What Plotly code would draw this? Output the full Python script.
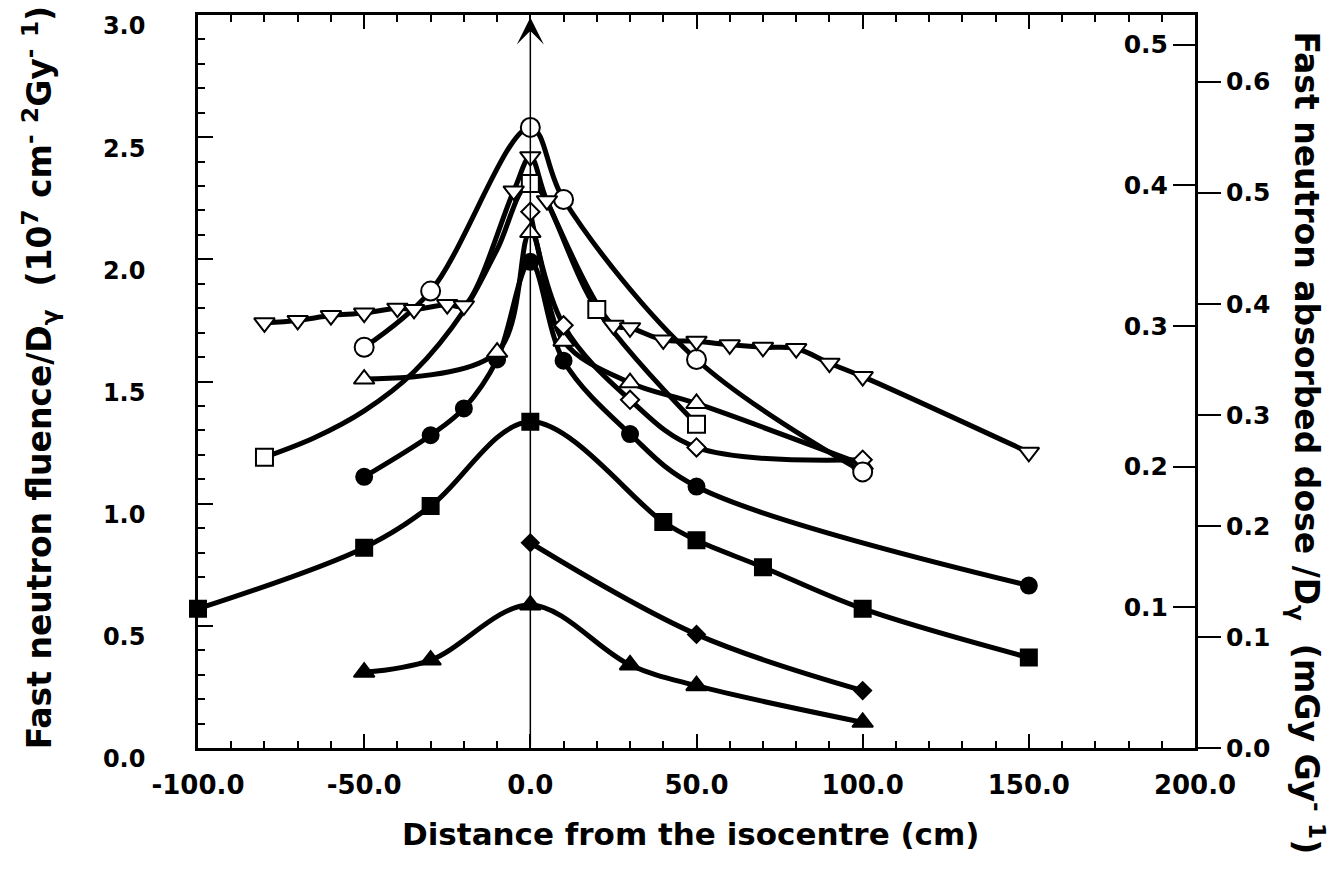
import plotly.graph_objects as go

# Distance from the isocentre (cm) and fast neutron fluence / D_gamma for each profile
tri_down_x = [-80, -70, -60, -50, -40, -35, -25, -20, -5, 0, 5, 25, 30, 40, 50, 60, 70, 80, 90, 100, 150]
tri_down_y = [1.74, 1.75, 1.77, 1.78, 1.80, 1.795, 1.815, 1.81, 2.28, 2.42, 2.24,
              1.73, 1.72, 1.67, 1.665, 1.65, 1.64, 1.635, 1.575, 1.52, 1.21]

circle_x = [-50, -30, 0, 10, 50, 100]
circle_y = [1.64, 1.87, 2.54, 2.245, 1.59, 1.13]

square_x = [-80, 0, 20, 50]
square_y = [1.19, 2.31, 1.795, 1.325]
# smoothed curve drawn through the open-square profile
square_curve_x = [-80, -65, -50, -35, -20, -10, 0, 20, 50]
square_curve_y = [1.19, 1.27, 1.38, 1.54, 1.79, 2.04, 2.31, 1.795, 1.325]

diamond_x = [0, 10, 30, 50, 100]
diamond_y = [2.195, 1.73, 1.425, 1.23, 1.18]

tri_up_x = [-50, -10, 0, 10, 30, 50, 100]
tri_up_y = [1.51, 1.62, 2.11, 1.665, 1.495, 1.41, 1.16]

dot_x = [-50, -30, -20, -10, 0, 10, 30, 50, 150]
dot_y = [1.11, 1.28, 1.39, 1.59, 1.99, 1.585, 1.285, 1.07, 0.665]

sq_fill_x = [-100, -50, -30, 0, 40, 50, 70, 100, 150]
sq_fill_y = [0.57, 0.82, 0.99, 1.335, 0.925, 0.85, 0.74, 0.57, 0.37]

dia_fill_x = [0, 50, 100]
dia_fill_y = [0.84, 0.465, 0.235]

tri_fill_x = [-50, -30, 0, 30, 50, 100]
tri_fill_y = [0.31, 0.36, 0.585, 0.34, 0.255, 0.105]

# Axis ticks
x_ticks = [-100, -50, 0, 50, 100, 150, 200]
y_ticks = [0.0, 0.5, 1.0, 1.5, 2.0, 2.5, 3.0]
dose_inner_ticks = [0.1, 0.2, 0.3, 0.4, 0.5]
dose_outer_ticks = [0.0, 0.1, 0.2, 0.3, 0.4, 0.5, 0.6]

# (line x, line y, marker x, marker y, symbol, fill, size)
series = [
    (tri_fill_x, tri_fill_y, tri_fill_x, tri_fill_y, "triangle-up", "black", 18),
    (dia_fill_x, dia_fill_y, dia_fill_x, dia_fill_y, "diamond", "black", 13),
    (sq_fill_x, sq_fill_y, sq_fill_x, sq_fill_y, "square", "black", 16),
    (dot_x, dot_y, dot_x, dot_y, "circle", "black", 16),
    (tri_up_x, tri_up_y, tri_up_x, tri_up_y, "triangle-up", "white", 18),
    (diamond_x, diamond_y, diamond_x, diamond_y, "diamond", "white", 14),
    (square_curve_x, square_curve_y, square_x, square_y, "square", "white", 17),
    (circle_x, circle_y, circle_x, circle_y, "circle", "white", 19),
    (tri_down_x, tri_down_y, tri_down_x, tri_down_y, "triangle-down", "white", 18),
]

fig = go.Figure()

# curves first, so every symbol sits on top of the lines
for lx, ly, mx, my, sym, fill, size in series:
    fig.add_trace(go.Scatter(
        x=lx, y=ly, mode="lines", hoverinfo="skip",
        line=dict(color="black", width=5, shape="spline", smoothing=1.0),
    ))
for lx, ly, mx, my, sym, fill, size in series:
    fig.add_trace(go.Scatter(
        x=mx, y=my, mode="markers", cliponaxis=False,
        marker=dict(symbol=sym, size=size, color=fill,
                    line=dict(color="black", width=2)),
    ))

# empty traces so the two dose scales on the right are laid out
fig.add_trace(go.Scatter(x=[], y=[], yaxis="y2", hoverinfo="skip"))
fig.add_trace(go.Scatter(x=[], y=[], yaxis="y3", hoverinfo="skip"))

tick_font = dict(family="DejaVu Sans", size=25, color="black", weight="bold")
title_font = dict(family="DejaVu Sans", size=33, color="black", weight="bold")

fig.update_layout(
    width=1340, height=871,
    margin=dict(l=198, r=145, t=13, b=123),
    paper_bgcolor="white", plot_bgcolor="white",
    showlegend=False,
    xaxis=dict(
        range=[-100, 200], tickmode="array", tickvals=x_ticks,
        ticktext=[f"{v:.1f}" for v in x_ticks],
        ticks="inside", ticklen=14, tickwidth=2, tickcolor="black",
        minor=dict(dtick=10, ticks="inside", ticklen=7, tickwidth=1.5, tickcolor="black"),
        showline=True, linewidth=2.5, linecolor="black", mirror="ticks",
        showgrid=False, zeroline=False,
        tickfont=dict(tick_font, size=26), ticklabelstandoff=12,
    ),
    yaxis=dict(
        range=[0, 3], tickmode="array", tickvals=y_ticks,
        ticktext=[f"{v:.1f}" for v in y_ticks],
        ticks="inside", ticklen=15, tickwidth=2, tickcolor="black",
        minor=dict(dtick=0.1, ticks="inside", ticklen=7, tickwidth=1.5, tickcolor="black"),
        showline=True, linewidth=2.5, linecolor="black", mirror=True,
        showgrid=False, zeroline=False,
        tickfont=dict(tick_font, size=24), ticklabelstandoff=45, ticklabelshift=11,
    ),
    # dose scale whose ticks and labels sit just inside the right frame
    yaxis2=dict(
        overlaying="y", side="left", anchor="free", position=1.0,
        range=[0, 0.521], tickmode="array", tickvals=dose_inner_ticks,
        ticktext=[f"{v:.1f}" for v in dose_inner_ticks],
        ticks="outside", ticklen=22, tickwidth=2, tickcolor="black",
        showline=False, showgrid=False, zeroline=False,
        tickfont=dict(tick_font, size=25),
    ),
    yaxis3=dict(
        overlaying="y", side="right", anchor="x",
        range=[0, 0.66], tickmode="array", tickvals=dose_outer_ticks,
        ticktext=[f"{v:.1f}" for v in dose_outer_ticks],
        ticks="outside", ticklen=25, tickwidth=2, tickcolor="black",
        showline=False, showgrid=False, zeroline=False,
        tickfont=dict(tick_font, size=25),
    ),
)

# isocentre marker: thin vertical arrow at x = 0
fig.add_annotation(
    x=0, y=2.99, ax=0, ay=0, xref="x", yref="y", axref="x", ayref="y",
    text="", showarrow=True, arrowhead=3, arrowsize=3, arrowwidth=1.5,
    arrowcolor="black", standoff=0, startstandoff=0,
)

# axis titles
fig.add_annotation(
    text="Fast neutron fluence/D<sub>γ</sub>&nbsp; (10<sup>7</sup> cm<sup>-</sup> <sup>2</sup>Gy<sup>-</sup> <sup>1</sup>)",
    xref="paper", yref="paper", x=-0.158, y=0.505, textangle=-90,
    showarrow=False, xanchor="center", yanchor="middle", font=title_font,
)
fig.add_annotation(
    text="Fast neutron absorbed dose /D<sub>γ</sub>&nbsp; (mGy Gy<sup>-</sup> <sup>1</sup>)",
    xref="paper", yref="paper", x=1.112, y=0.416, textangle=90,
    showarrow=False, xanchor="center", yanchor="middle", font=title_font,
)
fig.add_annotation(
    text="Distance from the isocentre (cm)",
    xref="paper", yref="paper", x=0.4935, y=-0.118,
    showarrow=False, xanchor="center", yanchor="middle",
    font=dict(title_font, size=31),
)

fig.write_html("out.html")
